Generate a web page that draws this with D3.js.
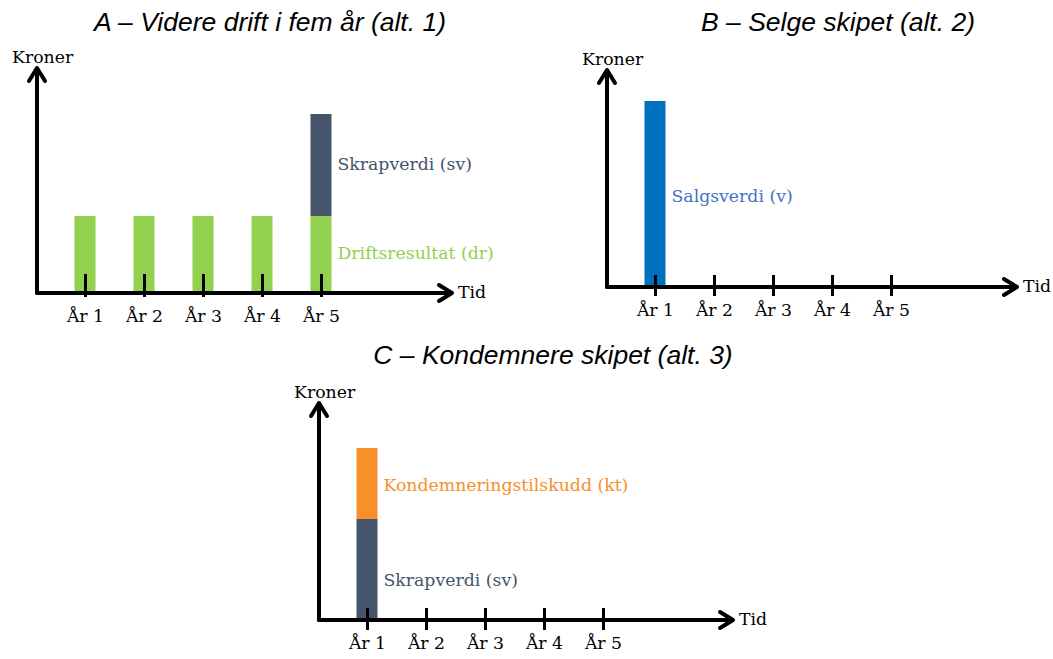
<!DOCTYPE html>
<html>
<head>
<meta charset="utf-8">
<script src="https://cdn.jsdelivr.net/npm/d3@7"></script>
<style>
  html, body { margin: 0; padding: 0; background: #fff; }
  svg { display: block; }
  .title { font-family: "Liberation Sans", Arial, sans-serif; font-style: italic; font-size: 26.5px; fill: #000; }
  .lbl { font-family: "DejaVu Serif", serif; font-size: 17.3px; }
</style>
</head>
<body>
<svg id="chart" width="1053" height="659"></svg>
<script>
// Years along the time axis
const years = ["År 1", "År 2", "År 3", "År 4", "År 5"];

// Alternative 1: keep operating for five years
const driftsresultatA = [77, 77, 77, 77, 77];
const skrapverdiA     = [0, 0, 0, 0, 102];

// Alternative 2: sell the ship
const salgsverdiB = [186, 0, 0, 0, 0];

// Alternative 3: scrap the ship with subsidy
const skrapverdiC    = [101, 0, 0, 0, 0];
const kondemneringC  = [71, 0, 0, 0, 0];

const titles = [
  "A – Videre drift i fem år (alt. 1)",
  "B – Selge skipet (alt. 2)",
  "C – Kondemnere skipet (alt. 3)"
];

const GREEN = "#92D050", SLATE = "#44546A", BLUE = "#0070C0", ORANGE = "#F7902A";

const panels = [
  {
    title: titles[0], titleX: 270, titleY: 31,
    ox: 37, oy: 293, axisW: 415, axisH: 225, tickUp: 19, tickDown: 4,
    series: [
      { key: "dr", values: driftsresultatA, color: GREEN, label: "Driftsresultat (dr)", labelColor: "#92D050", dy: 0 },
      { key: "sv", values: skrapverdiA, color: SLATE, label: "Skrapverdi (sv)", labelColor: "#44546A", dy: 0 }
    ]
  },
  {
    title: titles[1], titleX: 838, titleY: 31,
    ox: 607, oy: 287, axisW: 410, axisH: 217, tickUp: 12, tickDown: 9,
    series: [
      { key: "v", values: salgsverdiB, color: BLUE, label: "Salgsverdi (v)", labelColor: "#4472C4", dy: 3 }
    ]
  },
  {
    title: titles[2], titleX: 553, titleY: 364,
    ox: 319, oy: 620, axisW: 414, axisH: 217, tickUp: 12, tickDown: 10,
    series: [
      { key: "sv", values: skrapverdiC, color: SLATE, label: "Skrapverdi (sv)", labelColor: "#44546A", dy: 12 },
      { key: "kt", values: kondemneringC, color: ORANGE, label: "Kondemneringstilskudd (kt)", labelColor: "#F7902A", dy: 3 }
    ]
  }
];

const svg = d3.select("#chart");
const BAR_W = 21;

panels.forEach(p => {
  const g = svg.append("g").attr("transform", `translate(${p.ox},${p.oy})`);

  svg.append("text")
    .attr("class", "title")
    .attr("x", p.titleX).attr("y", p.titleY)
    .attr("text-anchor", "middle")
    .text(p.title);

  const x = d3.scalePoint().domain(years).range([48, 48 + 4 * 59]);
  const y = d3.scaleLinear().domain([0, p.axisH]).range([0, -p.axisH]);

  // Stack the series for each year
  const rows = years.map((yr, i) => {
    const r = { year: yr };
    p.series.forEach(s => { r[s.key] = s.values[i]; });
    return r;
  });
  const stacked = d3.stack().keys(p.series.map(s => s.key))(rows);

  stacked.forEach((layer, li) => {
    const s = p.series[li];
    const segs = layer.filter(d => d[1] - d[0] > 0);
    g.append("g").selectAll("rect")
      .data(segs)
      .join("rect")
      .attr("x", d => x(d.data.year) - BAR_W / 2)
      .attr("width", BAR_W)
      .attr("y", d => y(d[1]))
      .attr("height", d => y(d[0]) - y(d[1]))
      .attr("fill", s.color);

    // Series label beside the last bar carrying it
    const seg = segs.slice(-1)[0];
    if (seg) {
      g.append("text")
        .attr("class", "lbl")
        .attr("x", x(seg.data.year) + BAR_W / 2 + 6)
        .attr("y", (y(seg[0]) + y(seg[1])) / 2 + s.dy)
        .attr("dominant-baseline", "middle")
        .attr("fill", s.labelColor)
        .text(s.label);
    }
  });

  // Time axis with year ticks
  const axis = d3.axisBottom(x).tickSize(0).tickPadding(0);
  const ax = g.append("g").call(axis);
  ax.select(".domain").remove();
  ax.selectAll(".tick line")
    .attr("y1", -p.tickUp).attr("y2", p.tickDown)
    .attr("stroke", "#000").attr("stroke-width", 3);
  ax.selectAll(".tick text")
    .attr("y", 29)
    .attr("dy", 0)
    .attr("fill", "#000")
    .style("font-family", "DejaVu Serif, serif")
    .style("font-size", "17.3px");

  // Axis lines with open arrowheads
  const line = d3.line();
  const axisStyle = sel => sel.attr("fill", "none").attr("stroke", "#000")
    .attr("stroke-width", 4).attr("stroke-linecap", "round").attr("stroke-linejoin", "round");

  const W = p.axisW, H = p.axisH;
  g.append("path").attr("d", line([[0, 0], [W - 1, 0]])).call(axisStyle);
  g.append("path").attr("d", line([[W - 13, -8], [W, 0], [W - 13, 8]])).call(axisStyle);
  g.append("path").attr("d", line([[0, 0], [0, -H + 1]])).call(axisStyle);
  g.append("path").attr("d", line([[-8, -H + 13], [0, -H], [8, -H + 13]])).call(axisStyle);

  g.append("text").attr("class", "lbl")
    .attr("x", W + 6).attr("y", 0)
    .attr("dominant-baseline", "middle")
    .attr("fill", "#000").text("Tid");

  g.append("text").attr("class", "lbl")
    .attr("x", -25).attr("y", -H - 5)
    .attr("fill", "#000").text("Kroner");
});
</script>
</body>
</html>
